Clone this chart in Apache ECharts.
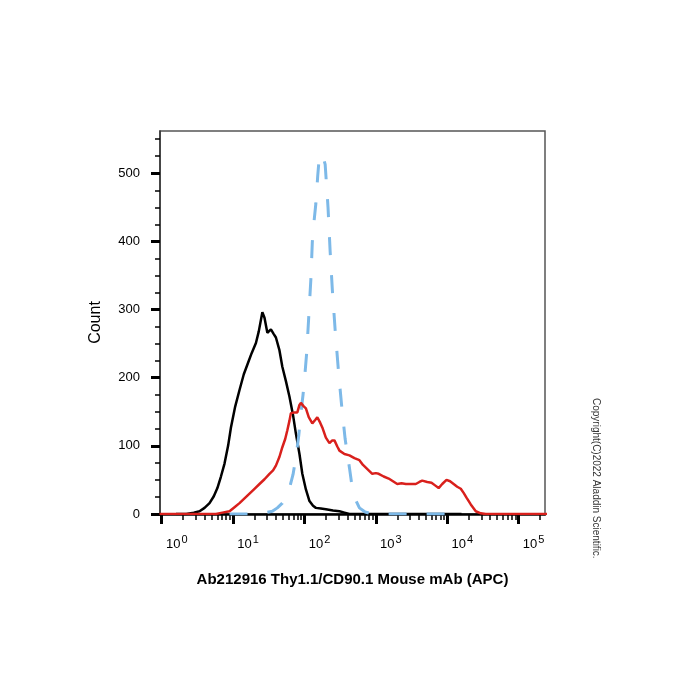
<!DOCTYPE html>
<html>
<head>
  <meta charset="utf-8" />
  <title>Ab212916 Thy1.1/CD90.1</title>
  <script src="https://cdn.jsdelivr.net/npm/echarts@6/dist/echarts.min.js"></script>
  <style>
    html, body { margin: 0; padding: 0; background: #fff; }
  </style>
</head>
<body>
<div id="main" style="width: 700px;height:700px;"></div>
<script type="text/javascript">
  // x values are log10 of fluorescence intensity, y values are event counts
  var blackX = [0.2, 0.345, 0.45, 0.53, 0.6, 0.67, 0.73, 0.78, 0.83, 0.88, 0.93, 0.97, 1.03, 1.09, 1.15, 1.21, 1.26, 1.32, 1.36, 1.41, 1.44, 1.48, 1.53, 1.57, 1.6, 1.65, 1.69, 1.74, 1.79, 1.84, 1.88, 1.93, 1.97, 2.02, 2.07, 2.12, 2.16, 2.23, 2.3, 2.4, 2.49, 2.56, 2.63, 4.2];
  var blackY = [0, 0, 2, 4, 9, 16, 26, 38, 55, 74, 100, 127, 158, 182, 205, 222, 236, 251, 268, 296, 288, 266, 271, 264, 259, 240, 216, 195, 172, 145, 118, 88, 59, 36, 19, 12, 9, 8, 7, 5, 4, 2, 0, 0];

  var redX = [-0.03, 0.76, 0.85, 0.95, 1.02, 1.09, 1.16, 1.23, 1.3, 1.37, 1.44, 1.51, 1.56, 1.6, 1.65, 1.69, 1.73, 1.76, 1.79, 1.81, 1.86, 1.9, 1.93, 1.95, 1.99, 2.02, 2.06, 2.11, 2.15, 2.18, 2.22, 2.25, 2.3, 2.35, 2.39, 2.42, 2.46, 2.49, 2.56, 2.63, 2.7, 2.77, 2.82, 2.86, 2.91, 2.95, 3.0, 3.04, 3.11, 3.18, 3.24, 3.3, 3.36, 3.42, 3.49, 3.56, 3.61, 3.65, 3.72, 3.78, 3.83, 3.88, 3.93, 3.99, 4.04, 4.09, 4.14, 4.19, 4.23, 4.27, 4.33, 4.4, 4.47, 4.54, 5.4];
  var redY = [0, 0, 2, 4, 10, 16, 23, 30, 37, 44, 51, 59, 64, 71, 84, 98, 110, 123, 137, 148, 149, 149, 160, 163, 158, 155, 142, 133, 138, 142, 134, 127, 112, 104, 108, 108, 99, 93, 88, 86, 82, 79, 72, 68, 63, 59, 60, 59, 55, 52, 48, 44, 45, 44, 44, 44, 47, 49, 47, 46, 42, 38, 44, 50, 48, 44, 40, 37, 31, 24, 14, 4, 1, 0, 0];

  var blueX = [0.95, 1.23, 1.4, 1.55, 1.62, 1.69, 1.74, 1.79, 1.84, 1.88, 1.92, 1.95, 1.98, 2.0, 2.03, 2.05, 2.07, 2.09, 2.11, 2.135, 2.16, 2.185, 2.21, 2.25, 2.29, 2.33, 2.36, 2.39, 2.43, 2.48, 2.52, 2.57, 2.63, 2.67, 2.72, 2.77, 2.85, 2.95, 4.0];
  var blueY = [0, 0, 1, 4, 9, 16, 26, 38, 58, 83, 115, 148, 175, 197, 235, 271, 308, 345, 399, 430, 456, 495, 527, 528, 513, 450, 385, 330, 270, 205, 160, 110, 68, 38, 20, 9, 3, 0, 0];

  var xDecades = [0, 1, 2, 3, 4, 5];
  var yMajor = [0, 100, 200, 300, 400, 500];
  var xMin = -0.024, xMax = 5.37;
  var yMax = 562;

  function pairs(xs, ys) {
    return xs.map(function (x, i) { return [x, ys[i]]; });
  }

  var xMinor = [];
  xDecades.forEach(function (d) {
    for (var k = 2; k <= 9; k++) {
      var v = d + Math.log10(k);
      if (v <= xMax) xMinor.push(v);
    }
  });
  var yMinor = [];
  for (var v = 25; v <= 550; v += 25) {
    if (v % 100 !== 0) yMinor.push(v);
  }

  var font = 'Liberation Sans, Arial, sans-serif';
  var chart = echarts.init(document.getElementById('main'));
  var option = {
    animation: false,
    backgroundColor: '#fff',
    grid: {
      left: 160, right: 155, top: 131, bottom: 186,
      show: true, borderColor: '#555', borderWidth: 1.5, backgroundColor: 'transparent'
    },
    xAxis: [
      {
        type: 'value', min: xMin, max: xMax,
        name: 'Ab212916 Thy1.1/CD90.1 Mouse mAb (APC)',
        nameLocation: 'middle', nameGap: 58,
        nameTextStyle: { fontFamily: font, fontSize: 15, fontWeight: 'bold', color: '#000' },
        axisLine: { show: true, onZero: false, lineStyle: { color: '#000', width: 2.5 } },
        axisTick: { show: true, customValues: xDecades, length: 10, lineStyle: { color: '#000', width: 3 } },
        axisLabel: {
          customValues: xDecades, margin: 20, padding: [0, 0, 0, 30],
          formatter: function (v) { return '{b|10}{s|' + Math.round(v) + '}'; },
          rich: {
            b: { fontFamily: font, fontSize: 13, color: '#000' },
            s: { fontFamily: font, fontSize: 11, color: '#000', padding: [0, 0, 9, 1] }
          }
        },
        splitLine: { show: false }
      },
      {
        type: 'value', min: xMin, max: xMax, position: 'bottom',
        axisLine: { show: false, onZero: false },
        axisTick: { show: true, customValues: xMinor, length: 6, lineStyle: { color: '#000', width: 1.5 } },
        axisLabel: { show: false },
        splitLine: { show: false }
      }
    ],
    yAxis: [
      {
        type: 'value', min: 0, max: yMax,
        name: 'Count', nameLocation: 'middle', nameGap: 56,
        nameTextStyle: { fontFamily: font, fontSize: 16, color: '#000' },
        axisLine: { show: true, onZero: false, lineStyle: { color: '#333', width: 1.5 } },
        axisTick: { show: true, customValues: yMajor, length: 9, lineStyle: { color: '#000', width: 3 } },
        axisLabel: { customValues: yMajor, margin: 20, fontFamily: font, fontSize: 13, color: '#000' },
        splitLine: { show: false }
      },
      {
        type: 'value', min: 0, max: yMax, position: 'left',
        axisLine: { show: false, onZero: false },
        axisTick: { show: true, customValues: yMinor, length: 5, lineStyle: { color: '#000', width: 1.5 } },
        axisLabel: { show: false },
        splitLine: { show: false }
      }
    ],
    graphic: [
      {
        type: 'text', x: 601, y: 398, rotation: -Math.PI / 2,
        style: { text: 'Copyright(C)2022 Aladdin Scientific.', fontFamily: font, fontSize: 10, fill: '#333' }
      }
    ],
    series: [
      {
        name: 'black', type: 'line', showSymbol: false, smooth: false,
        data: pairs(blackX, blackY),
        lineStyle: { color: '#000', width: 2.5 }
      },
      {
        name: 'blue', type: 'line', showSymbol: false, smooth: false,
        data: pairs(blueX, blueY),
        lineStyle: { color: '#7db9e8', width: 3, type: [18, 20] }
      },
      {
        name: 'red', type: 'line', showSymbol: false, smooth: false,
        data: pairs(redX, redY),
        lineStyle: { color: '#d9201c', width: 2.5 }
      }
    ]
  };
  chart.setOption(option);
</script>
</body>
</html>
